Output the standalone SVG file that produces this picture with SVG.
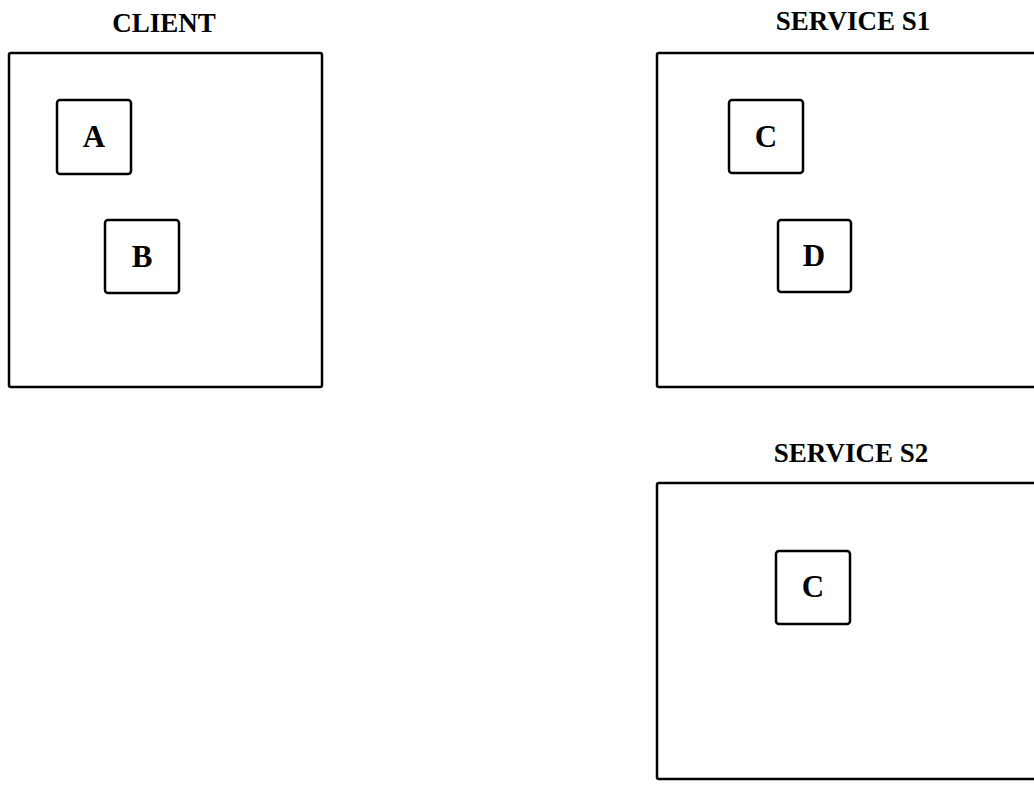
<svg xmlns="http://www.w3.org/2000/svg" width="1034" height="789" viewBox="0 0 1034 789">
<style>
.frame{fill:none;stroke:#000;stroke-width:2.5}
.box{fill:none;stroke:#000;stroke-width:2.5}
.title{font-family:"Liberation Serif",serif;font-weight:bold;font-size:27px;text-anchor:middle;fill:#000}
.lbl{font-family:"Liberation Serif",serif;font-weight:bold;font-size:31px;text-anchor:middle;fill:#000}
</style>
<rect width="1034" height="789" fill="#fff"/>
<g id="client">
<text class="title" x="164" y="32">CLIENT</text>
<rect class="frame" x="9" y="53" width="313" height="334" rx="2"/>
</g>
<g id="serviceS1">
<text class="title" x="853" y="30">SERVICE S1</text>
<rect class="frame" x="657" y="53" width="390" height="334" rx="2"/>
</g>
<g id="serviceS2">
<text class="title" x="851" y="462">SERVICE S2</text>
<rect class="frame" x="657" y="483" width="390" height="296" rx="2"/>
</g>
<g id="nodeA">
<rect class="box" x="57" y="100" width="74" height="74" rx="3"/>
<text class="lbl" x="94" y="147">A</text>
</g>
<g id="nodeB">
<rect class="box" x="105" y="220" width="74" height="73" rx="3"/>
<text class="lbl" x="142" y="267">B</text>
</g>
<g id="nodeC1">
<rect class="box" x="729" y="100" width="74" height="73" rx="3"/>
<text class="lbl" x="766" y="147">C</text>
</g>
<g id="nodeD">
<rect class="box" x="778" y="220" width="73" height="72" rx="3"/>
<text class="lbl" x="814" y="266">D</text>
</g>
<g id="nodeC2">
<rect class="box" x="776" y="551" width="74" height="73" rx="3"/>
<text class="lbl" x="813" y="597">C</text>
</g>
<g id="connectors"></g>
</svg>
